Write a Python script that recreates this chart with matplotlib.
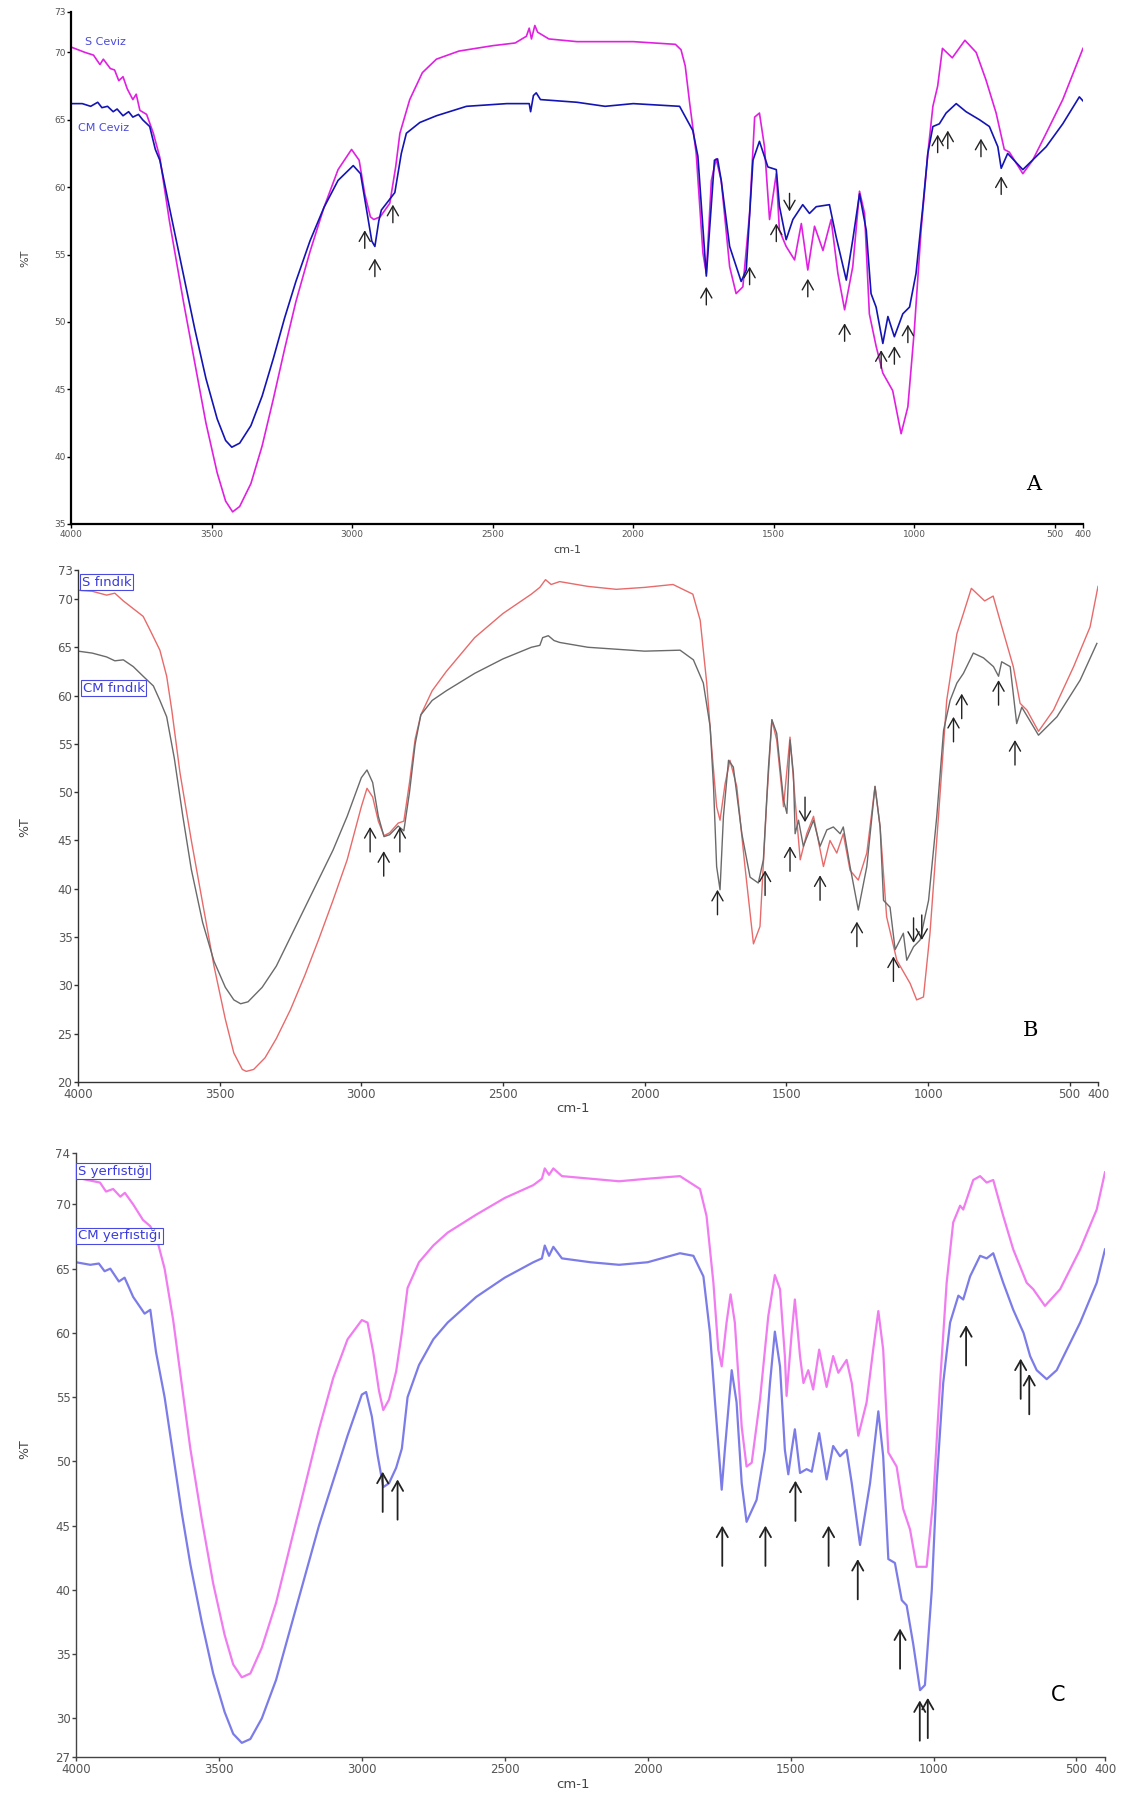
import numpy as np
import matplotlib
matplotlib.use("Agg")
import matplotlib.pyplot as plt

# FTIR spectra, (wavenumber cm-1, %T) pairs

# panel A - ceviz
s_ceviz = [(4000, 70.4), (3950, 70.0), (3920, 69.8), (3897, 69.1), (3885, 69.5), (3860, 68.8), (3845, 68.7),
           (3830, 67.9), (3815, 68.2), (3800, 67.3), (3780, 66.5), (3768, 66.9),
           (3755, 65.7), (3731, 65.4), (3707, 64.0), (3684, 62.2), (3650, 57.5), (3600, 51.5), (3560, 47.0),
           (3520, 42.5), (3480, 38.8), (3450, 36.7), (3425, 35.9), (3400, 36.3), (3360, 38.0), (3320, 40.8),
           (3280, 44.3), (3240, 48.0), (3200, 51.5), (3150, 55.2), (3100, 58.5), (3050, 61.3), (3002, 62.8),
           (2975, 62.0), (2955, 59.5), (2935, 57.8), (2923, 57.6), (2900, 57.8), (2866, 58.8), (2845, 61.5),
           (2830, 64.0), (2795, 66.5), (2750, 68.5), (2700, 69.5), (2620, 70.1), (2500, 70.5), (2420, 70.7),
           (2380, 71.2), (2370, 71.8), (2362, 71.0), (2350, 72.0), (2340, 71.5), (2300, 71.0), (2200, 70.8),
           (2000, 70.8), (1850, 70.6), (1830, 70.2), (1815, 69.0), (1799, 66.2), (1776, 62.5), (1752, 55.1),
           (1740, 53.6), (1722, 60.5), (1705, 62.1), (1687, 60.5), (1657, 54.1), (1634, 52.1), (1610, 52.6),
           (1586, 58.05), (1568, 65.2), (1551, 65.5), (1533, 63.0), (1515, 57.6), (1491, 61.0), (1480, 56.8),
           (1456, 55.6), (1426, 54.6), (1402, 57.3), (1379, 53.85), (1355, 57.1), (1325, 55.3), (1296, 57.6),
           (1272, 53.6), (1248, 50.9), (1219, 54.1), (1195, 59.7), (1177, 58.05), (1160, 50.6), (1136, 48.2),
           (1112, 46.2), (1077, 44.9), (1047, 41.7), (1023, 43.7), (1000, 49.4), (976, 56.8), (952, 62.5),
           (934, 66.0), (917, 67.5), (900, 70.3), (865, 69.6), (820, 70.9), (780, 70.0), (745, 67.95),
           (709, 65.5), (680, 62.8), (662, 62.6), (614, 61.0), (579, 62.0), (531, 64.0), (472, 66.5), (400, 70.3)]
cm_ceviz = [(4000, 66.2), (3960, 66.2), (3930, 66.0), (3905, 66.3), (3890, 65.9), (3870, 66.0), (3850, 65.6),
            (3836, 65.8), (3815, 65.3), (3795, 65.6), (3780, 65.2), (3760, 65.4), (3745, 65.0), (3720, 64.5),
            (3700, 62.8), (3684, 62.0), (3650, 58.5), (3600, 53.5), (3560, 49.5), (3520, 45.8), (3480, 42.8),
            (3450, 41.2), (3428, 40.7), (3400, 41.0), (3360, 42.3), (3320, 44.5), (3280, 47.3), (3240, 50.3),
            (3200, 53.0), (3150, 56.0), (3100, 58.5), (3050, 60.5), (2996, 61.6), (2970, 61.0), (2950, 58.5),
            (2930, 56.0), (2919, 55.6), (2905, 57.5), (2896, 58.3), (2870, 59.0), (2848, 59.6), (2825, 62.5),
            (2807, 64.0), (2759, 64.8), (2700, 65.3), (2593, 66.0), (2450, 66.2), (2370, 66.2), (2365, 65.6),
            (2355, 66.8), (2345, 67.0), (2330, 66.5), (2200, 66.3), (2100, 66.0), (2000, 66.2), (1835, 66.0),
            (1788, 64.2), (1770, 62.3), (1740, 53.4), (1711, 62.0), (1700, 62.1), (1687, 60.5), (1657, 55.6),
            (1616, 53.0), (1598, 53.85), (1574, 62.0), (1551, 63.4), (1521, 61.5), (1491, 61.3), (1480, 58.6),
            (1456, 56.1), (1432, 57.6), (1397, 58.7), (1373, 58.05), (1349, 58.55), (1302, 58.7), (1278, 56.3),
            (1242, 53.1), (1219, 56.1), (1195, 59.5), (1171, 56.8), (1154, 52.1), (1136, 51.1), (1112, 48.4),
            (1094, 50.4), (1071, 48.9), (1041, 50.6), (1017, 51.1), (994, 53.6), (970, 58.5), (952, 62.5),
            (934, 64.5), (911, 64.7), (887, 65.5), (851, 66.2), (816, 65.6), (768, 65.0), (733, 64.5),
            (703, 63.0), (691, 61.4), (668, 62.5), (614, 61.3), (531, 63.0), (472, 64.7), (413, 66.7), (400, 66.4)]

# panel B - findik
s_findik = [(4000, 70.9), (3950, 70.8), (3899, 70.4), (3870, 70.6), (3840, 69.8), (3805, 69.0), (3770, 68.2),
            (3746, 66.8), (3711, 64.7), (3687, 62.0),
            (3669, 58.5), (3640, 52.0), (3600, 45.0), (3560, 38.5), (3520, 32.0), (3480, 26.5), (3450, 23.0),
            (3420, 21.3), (3406, 21.1), (3380, 21.3), (3340, 22.5), (3300, 24.5), (3250, 27.5), (3200, 31.0),
            (3150, 34.8), (3100, 38.8), (3050, 43.0), (3000, 48.5), (2980, 50.4), (2960, 49.5), (2940, 47.0),
            (2920, 45.5), (2900, 45.8), (2870, 46.8), (2850, 47.0), (2830, 51.0), (2810, 55.5), (2790, 58.0),
            (2750, 60.5), (2700, 62.5), (2600, 66.0), (2500, 68.5), (2400, 70.5), (2370, 71.2), (2350, 72.0),
            (2330, 71.5), (2300, 71.8), (2200, 71.3), (2100, 71.0), (2000, 71.2), (1900, 71.5), (1830, 70.5),
            (1804, 67.8), (1781, 61.3), (1763, 54.4), (1746, 48.5), (1734, 47.1), (1716, 50.9), (1699, 53.3),
            (1675, 50.6), (1646, 42.3), (1616, 34.3), (1593, 36.1), (1569, 49.2), (1551, 57.5), (1534, 55.4),
            (1510, 48.5), (1487, 55.7), (1469, 49.2), (1451, 43.0), (1428, 45.7), (1404, 47.5), (1369, 42.3),
            (1346, 45.0), (1322, 43.7), (1299, 45.7), (1275, 41.9), (1246, 40.9), (1216, 43.7), (1187, 50.6),
            (1169, 46.4), (1146, 37.1), (1110, 32.6), (1063, 30.2), (1040, 28.5), (1016, 28.8), (993, 35.4),
            (963, 47.5), (934, 59.5), (898, 66.4), (875, 68.5), (847, 71.1), (800, 69.8), (770, 70.3),
            (746, 67.8), (699, 63.0), (675, 59.2), (651, 58.5), (610, 56.3), (557, 58.5), (486, 63.0),
            (428, 67.1), (400, 71.3)]
cm_findik = [(4000, 64.6), (3950, 64.4), (3899, 64.0), (3870, 63.6), (3840, 63.7), (3805, 63.0), (3770, 62.0),
             (3734, 61.0), (3711, 59.5), (3687, 57.8),
             (3660, 53.5), (3630, 47.5), (3600, 42.0), (3560, 36.5), (3520, 32.5), (3480, 29.8), (3450, 28.5),
             (3426, 28.1), (3400, 28.3), (3350, 29.8), (3300, 32.0), (3250, 35.0), (3200, 38.0), (3150, 41.0),
             (3100, 44.0), (3050, 47.5), (3000, 51.5), (2980, 52.3), (2960, 51.0), (2940, 47.5), (2920, 45.4),
             (2900, 45.6), (2870, 46.5), (2850, 46.0), (2830, 50.0), (2810, 55.0), (2790, 58.0), (2750, 59.5),
             (2700, 60.5), (2600, 62.3), (2500, 63.8), (2400, 65.0), (2370, 65.2), (2360, 66.0), (2340, 66.2),
             (2320, 65.7), (2300, 65.5), (2200, 65.0), (2100, 64.8), (2000, 64.6), (1875, 64.7), (1828, 63.7),
             (1793, 61.3), (1769, 56.8), (1757, 50.6), (1746, 42.3), (1734, 39.9), (1722, 47.5), (1704, 53.3),
             (1687, 52.6), (1657, 45.7), (1628, 41.2), (1599, 40.6), (1581, 43.0), (1563, 52.6), (1551, 57.5),
             (1534, 56.1), (1510, 49.2), (1498, 47.8), (1487, 55.4), (1475, 51.9), (1469, 45.7), (1457, 47.1),
             (1440, 44.4), (1404, 47.1), (1381, 44.4), (1357, 46.1), (1334, 46.4), (1310, 45.7), (1299, 46.4),
             (1275, 42.3), (1246, 37.8), (1216, 42.3), (1187, 50.6), (1169, 46.4), (1157, 38.8), (1134, 38.1),
             (1116, 33.7), (1087, 35.4), (1075, 32.6), (1051, 34.0), (1028, 34.7), (998, 38.8), (969, 47.5),
             (945, 56.4), (922, 59.5), (898, 61.3), (875, 62.3), (840, 64.4), (804, 63.9), (769, 63.0),
             (751, 62.0), (740, 63.5), (710, 63.0), (687, 57.1), (669, 58.8), (610, 55.9), (545, 57.8),
             (463, 61.6), (404, 65.4)]

# panel C - yerfistigi
s_yer = [(4000, 72.1), (3960, 71.9), (3916, 71.7), (3895, 71.0), (3870, 71.2), (3845, 70.6), (3829, 70.9),
         (3800, 70.0), (3766, 68.8),
         (3740, 68.3), (3717, 67.3), (3690, 65.0), (3660, 61.0), (3630, 56.0), (3600, 51.0), (3560, 45.5),
         (3520, 40.5), (3480, 36.5), (3450, 34.2), (3420, 33.2), (3390, 33.5), (3350, 35.5), (3300, 39.0),
         (3250, 43.5), (3200, 48.0), (3150, 52.5), (3100, 56.5), (3050, 59.5), (3000, 61.0), (2980, 60.8),
         (2960, 58.5), (2940, 55.5), (2925, 54.0), (2905, 54.8), (2880, 57.0), (2860, 60.0), (2840, 63.5),
         (2800, 65.5), (2750, 66.8), (2700, 67.8), (2600, 69.2), (2500, 70.5), (2400, 71.5), (2370, 72.0),
         (2360, 72.8), (2345, 72.3), (2330, 72.8), (2300, 72.2), (2200, 72.0), (2100, 71.8), (2000, 72.0),
         (1887, 72.2), (1817, 71.2), (1794, 69.1), (1770, 63.9), (1753, 58.7), (1741, 57.4), (1724, 60.8),
         (1710, 63.0), (1695, 60.8), (1671, 52.7), (1654, 49.6), (1636, 49.9), (1607, 54.8), (1578, 61.3),
         (1555, 64.5), (1537, 63.4), (1520, 58.2), (1514, 55.1), (1496, 60.0), (1485, 62.6), (1467, 58.2),
         (1455, 56.1), (1438, 57.1), (1421, 55.6), (1400, 58.7), (1374, 55.8), (1351, 58.2), (1333, 56.9),
         (1304, 57.9), (1286, 56.1), (1263, 52.0), (1234, 54.6), (1211, 58.7), (1193, 61.7), (1176, 58.7),
         (1158, 50.7), (1129, 49.6), (1106, 46.3), (1082, 44.7), (1059, 41.8), (1024, 41.8), (1001, 47.0),
         (977, 56.1), (954, 63.9), (931, 68.6), (907, 69.9), (896, 69.6), (861, 71.9), (837, 72.2),
         (814, 71.7), (791, 71.9), (756, 69.1), (721, 66.5), (674, 63.9), (651, 63.4), (610, 62.1),
         (557, 63.4), (487, 66.5), (429, 69.6), (400, 72.5)]
cm_yer = [(4000, 65.5), (3950, 65.3), (3920, 65.4), (3900, 64.8), (3880, 65.0), (3850, 64.0), (3830, 64.3),
          (3800, 62.8), (3760, 61.5), (3740, 61.8), (3720, 58.5),
          (3690, 55.0), (3660, 50.5), (3630, 46.0), (3600, 42.0), (3560, 37.5), (3520, 33.5), (3480, 30.5),
          (3450, 28.8), (3420, 28.1), (3390, 28.4), (3350, 30.0), (3300, 33.0), (3250, 37.0), (3200, 41.0),
          (3150, 45.0), (3100, 48.5), (3050, 52.0), (3000, 55.2), (2985, 55.4), (2965, 53.5), (2945, 50.5),
          (2925, 48.0), (2905, 48.3), (2880, 49.5), (2860, 51.0), (2840, 55.0), (2800, 57.5), (2750, 59.5),
          (2700, 60.8), (2600, 62.8), (2500, 64.3), (2400, 65.5), (2370, 65.8), (2360, 66.8), (2345, 66.0),
          (2330, 66.7), (2300, 65.8), (2200, 65.5), (2100, 65.3), (2000, 65.5), (1887, 66.2), (1840, 66.0),
          (1805, 64.4), (1782, 60.0), (1765, 54.8), (1747, 49.6), (1741, 47.8), (1730, 50.9), (1706, 57.1),
          (1689, 54.6), (1671, 48.3), (1654, 45.3), (1619, 47.0), (1590, 50.9), (1572, 56.1), (1555, 60.1),
          (1537, 57.4), (1520, 50.9), (1508, 49.0), (1496, 50.9), (1485, 52.5), (1467, 49.1), (1444, 49.4),
          (1426, 49.2), (1400, 52.2), (1374, 48.6), (1351, 51.2), (1327, 50.4), (1304, 50.9), (1286, 48.3),
          (1257, 43.5), (1222, 48.3), (1193, 53.9), (1176, 50.4), (1158, 42.4), (1135, 42.1), (1111, 39.2),
          (1094, 38.8), (1071, 35.8), (1047, 32.2), (1030, 32.6), (1006, 40.0), (989, 48.3), (966, 56.1),
          (942, 60.8), (913, 62.9), (896, 62.6), (872, 64.4), (837, 66.0), (814, 65.8), (791, 66.2),
          (756, 63.9), (721, 61.8), (685, 60.0), (662, 58.2), (639, 57.1), (604, 56.4), (569, 57.1),
          (487, 60.8), (429, 63.9), (400, 66.5)]

# marked bands (wavenumber, %T at arrow tip)
arrows_up_a = [(2955, 56.8), (2919, 54.7), (2855, 58.7), (1740, 52.6), (1586, 54.1), (1491, 57.3), (1379, 53.2),
               (1248, 49.9), (1118, 47.9), (1071, 48.2), (1023, 49.8), (917, 63.9), (881, 64.2), (763, 63.6),
               (691, 60.8)]
arrows_dn_a = [(1444, 58.2)]
arrows_up_b = [(2969, 46.4), (2921, 43.9), (2864, 46.4), (1743, 39.9), (1575, 41.9), (1487, 44.4), (1381, 41.4),
               (1251, 36.6), (1122, 33.0), (910, 57.8), (881, 60.2), (751, 61.6), (693, 55.4)]
arrows_dn_b = [(1434, 46.9), (1051, 34.4), (1022, 34.7)]
arrows_up_c = [(2927, 49.2), (2875, 48.6), (1739, 45.0), (1588, 45.0), (1483, 48.5), (1367, 45.0), (1265, 42.4),
               (1117, 37.0), (1048, 31.4), (1020, 31.6), (886, 60.6), (695, 58.0), (665, 56.8)]

xticks = [4000, 3500, 3000, 2500, 2000, 1500, 1000, 500, 400]
yticks_a = [35, 40, 45, 50, 55, 60, 65, 70, 73]
yticks_b = [20, 25, 30, 35, 40, 45, 50, 55, 60, 65, 70, 73]
yticks_c = [27, 30, 35, 40, 45, 50, 55, 60, 65, 70, 74]

W, H = 1126, 1796
fig = plt.figure(figsize=(W / 100, H / 100), dpi=100)


def box(l, t, r, b):
    return [l / W, 1 - b / H, (r - l) / W, (b - t) / H]


def setup(ax, yticks, fs, lw, spine_col):
    ax.set_xlim(4000, 400)
    ax.set_ylim(yticks[0], yticks[-1])
    ax.set_xticks(xticks)
    ax.set_xticklabels([str(t) for t in xticks])
    ax.set_yticks(yticks)
    for s in ["top", "right"]:
        ax.spines[s].set_visible(False)
    for s in ["left", "bottom"]:
        ax.spines[s].set_linewidth(lw)
        ax.spines[s].set_color(spine_col)
    ax.tick_params(direction="out", length=3, width=1, colors=spine_col, labelsize=fs, labelcolor="#555555", pad=1)


def draw_arrows(ax, pts, length, lw, down=False):
    for wn, t in pts:
        ax.annotate("", xy=(wn, t), xytext=(0, length if down else -length), textcoords="offset points",
                    arrowprops=dict(arrowstyle="->,head_length=0.7,head_width=0.4", lw=lw, color="#222222",
                                    shrinkA=0, shrinkB=0))


def line(ax, data, col, lw):
    d = np.array(data)
    ax.plot(d[:, 0], d[:, 1], color=col, lw=lw)


# ---- A
ax1 = fig.add_axes(box(71, 12, 1083, 524))
setup(ax1, yticks_a, 6.5, 1.6, "black")
line(ax1, s_ceviz, "#e020e0", 1.2)
line(ax1, cm_ceviz, "#1414b4", 1.2)
draw_arrows(ax1, arrows_up_a, 13, 1.0)
draw_arrows(ax1, arrows_dn_a, 13, 1.0, down=True)
fig.text(85 / W, 1 - 42 / H, "S Ceviz", color="#4a4ad8", fontsize=8, va="center")
fig.text(78 / W, 1 - 128 / H, "CM Ceviz", color="#4a4ad8", fontsize=8, va="center")
fig.text(1034 / W, 1 - 485 / H, "A", fontsize=15, family="DejaVu Serif", ha="center", va="center")
fig.text(567 / W, 1 - 550 / H, "cm-1", fontsize=8, color="#444444", ha="center", va="center")
fig.text(25 / W, 1 - 258 / H, "%T", fontsize=8, color="#444444", rotation=90, ha="center", va="center")

# ---- B
ax2 = fig.add_axes(box(78, 570, 1098, 1082))
setup(ax2, yticks_b, 8.5, 1.0, "#333333")
line(ax2, s_findik, "#e86a6a", 1.0)
line(ax2, cm_findik, "#6a6a6a", 1.0)
draw_arrows(ax2, arrows_up_b, 18, 1.0)
draw_arrows(ax2, arrows_dn_b, 18, 1.0, down=True)
lab = dict(color="#3a3ae0", fontsize=9.5, va="center",
           bbox=dict(boxstyle="square,pad=0.12", fc="white", ec="#4a4ae0", lw=0.8))
fig.text(82 / W, 1 - 582 / H, "S fındık", **lab)
fig.text(83 / W, 1 - 688 / H, "CM fındık", **lab)
fig.text(1031 / W, 1 - 1031 / H, "B", fontsize=15, family="DejaVu Serif", ha="center", va="center")
fig.text(573 / W, 1 - 1109 / H, "cm-1", fontsize=9.5, color="#444444", ha="center", va="center")
fig.text(25 / W, 1 - 827 / H, "%T", fontsize=9, color="#444444", rotation=90, ha="center", va="center")

# ---- C
ax3 = fig.add_axes(box(76, 1153, 1105, 1757))
setup(ax3, yticks_c, 8.5, 1.0, "#444444")
line(ax3, s_yer, "#f07cf0", 1.6)
line(ax3, cm_yer, "#7c7ce8", 1.6)
draw_arrows(ax3, arrows_up_c, 29, 1.3)
fig.text(78 / W, 1 - 1171 / H, "S yerfıstığı", **lab)
fig.text(78 / W, 1 - 1236 / H, "CM yerfıstığı", **lab)
fig.text(1058 / W, 1 - 1695 / H, "C", fontsize=15, ha="center", va="center")
fig.text(573 / W, 1 - 1785 / H, "cm-1", fontsize=9.5, color="#444444", ha="center", va="center")
fig.text(25 / W, 1 - 1449 / H, "%T", fontsize=9, color="#444444", rotation=90, ha="center", va="center")

fig.savefig("out.png", dpi=100)
